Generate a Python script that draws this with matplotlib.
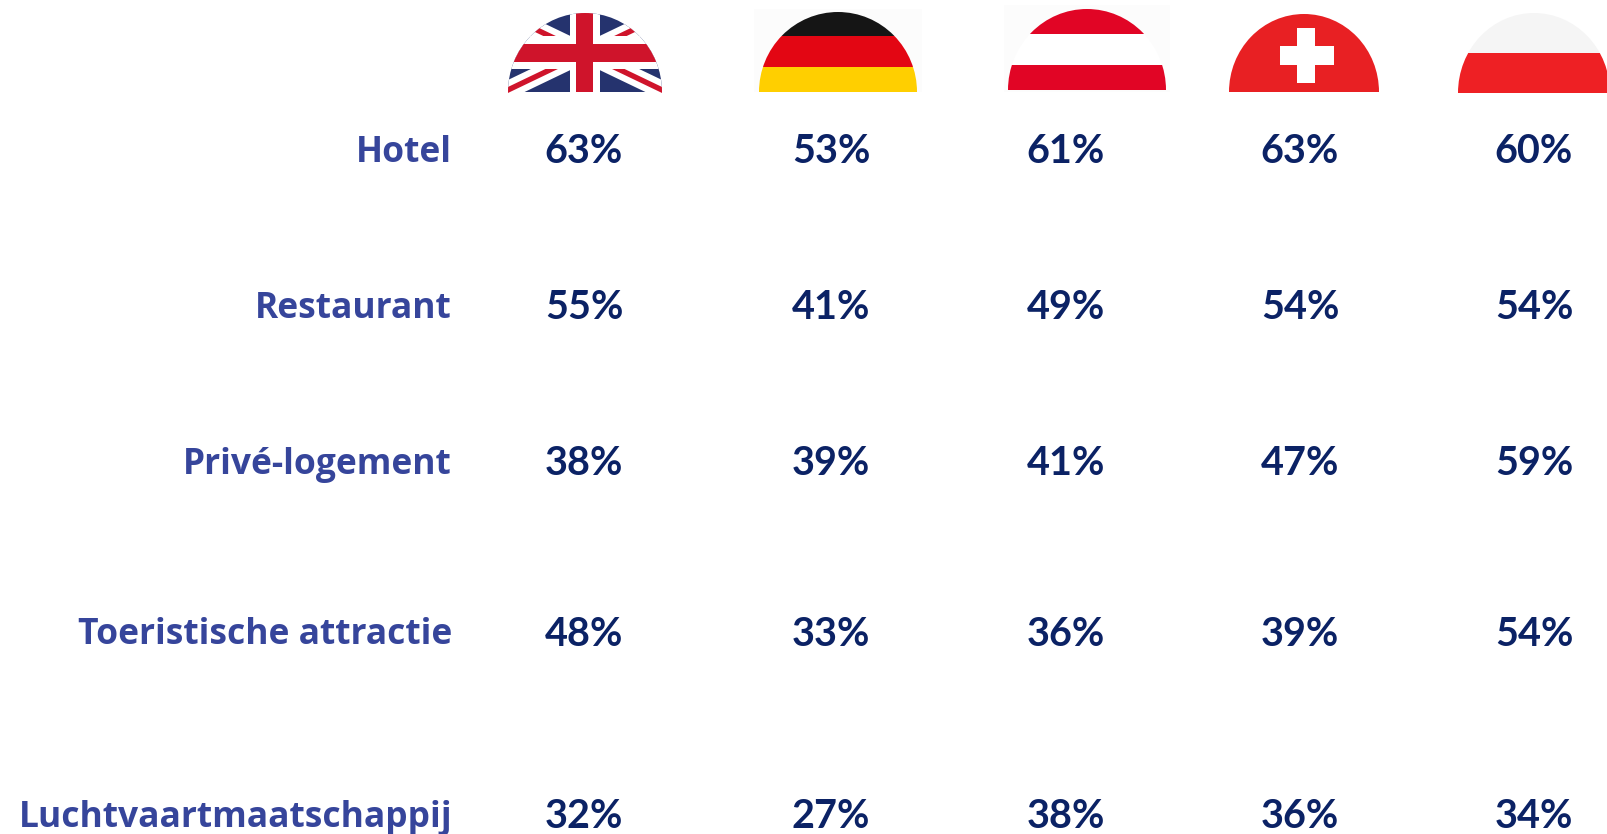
import matplotlib
matplotlib.use("Agg")

import numpy as np

import matplotlib.pyplot as plt
from matplotlib.patches import Ellipse, Rectangle, Polygon

categories = ["Hotel", "Restaurant", "Privé-logement", "Toeristische attractie", "Luchtvaartmaatschappij"]

uk = [63, 55, 38, 48, 32]
germany = [53, 41, 39, 33, 27]
austria = [61, 49, 41, 36, 38]
switzerland = [63, 54, 47, 39, 36]
poland = [60, 54, 59, 54, 34]

columns = [uk, germany, austria, switzerland, poland]

# NOTE: layout, in pixels of the 1607x834 picture
column_x = [584, 831, 1066, 1300, 1534]
row_y = [148, 304, 460, 631, 813]
label_x = 452

label_color = "#36459b"
value_color = "#0b2265"

plt.rcParams["font.family"] = ["Lato", "DejaVu Sans"]


def half_disc(ax, xc, y_base, rx, ry):

    clip = Ellipse(xy=(xc, y_base), width=2.0 * rx, height=2.0 * ry, transform=ax.transData)

    return clip


def rect(ax, x0, y0, x1, y1, color, clip=None):

    patch = Rectangle((x0, y0), x1 - x0, y1 - y0, facecolor=color, edgecolor="none")
    ax.add_patch(patch)
    if clip is not None:
        patch.set_clip_path(clip)

    return patch


def diagonal(ax, xc, yc, x_half, slope, w, color, clip):

    for sign in [1.0, -1.0]:
        p0 = (xc - x_half, yc - sign * slope * x_half)
        p1 = (xc + x_half, yc + sign * slope * x_half)
        patch = Polygon(
            [(p0[0], p0[1] - w), (p1[0], p1[1] - w), (p1[0], p1[1] + w), (p0[0], p0[1] + w)],
            facecolor=color,
            edgecolor="none"
        )
        ax.add_patch(patch)
        patch.set_clip_path(clip)


def draw_uk(ax):

    xc, y_base, rx, ry = 585, 92, 77, 79
    clip = half_disc(ax, xc, y_base, rx, ry)

    rect(ax, xc - rx, 0, xc + rx, y_base, "#25336e", clip)
    diagonal(ax, xc, 53, 160, 0.48, 10, "white", clip)
    diagonal(ax, xc, 53, 160, 0.48, 3, "#cf142b", clip)
    rect(ax, xc - rx, 36, xc + rx, 69, "white", clip)
    rect(ax, 570, 0, 600, y_base, "white", clip)
    rect(ax, xc - rx, 44, xc + rx, 62, "#cf142b", clip)
    rect(ax, 576, 0, 593, y_base, "#cf142b", clip)


def draw_germany(ax):

    # NOTE: the flag sits on a faint off-white box
    rect(ax, 754, 9, 922, 92, "#fcfcfc")

    xc, y_base, rx, ry = 838, 92, 79, 80
    clip = half_disc(ax, xc, y_base, rx, ry)

    rect(ax, xc - rx, 0, xc + rx, 36, "#151515", clip)
    rect(ax, xc - rx, 36, xc + rx, 67, "#e30613", clip)
    rect(ax, xc - rx, 67, xc + rx, y_base, "#ffcf00", clip)


def draw_austria(ax):

    rect(ax, 1004, 5, 1170, 92, "#fcfcfc")

    xc, y_base, rx, ry = 1087, 90, 79, 81
    clip = half_disc(ax, xc, y_base, rx, ry)

    rect(ax, xc - rx, 0, xc + rx, 34, "#e10525", clip)
    rect(ax, xc - rx, 34, xc + rx, 65, "white", clip)
    rect(ax, xc - rx, 65, xc + rx, y_base, "#e10525", clip)


def draw_switzerland(ax):

    xc, y_base, rx, ry = 1304, 92, 75, 78
    clip = half_disc(ax, xc, y_base, rx, ry)

    rect(ax, xc - rx, 0, xc + rx, y_base, "#e82023", clip)
    rect(ax, 1280, 46, 1334, 65, "white", clip)
    rect(ax, 1297, 28, 1315, 83, "white", clip)


def draw_poland(ax):

    xc, y_base, rx, ry = 1534, 93, 76, 80
    clip = half_disc(ax, xc, y_base, rx, ry)

    rect(ax, xc - rx, 0, xc + rx, 53, "#f5f5f5", clip)
    rect(ax, xc - rx, 53, xc + rx, y_base, "#ee2024", clip)


fig = plt.figure(figsize=(16.07, 8.34), dpi=100)
ax = fig.add_axes([0, 0, 1, 1])
ax.set_xlim(0, 1607)
ax.set_ylim(834, 0)
ax.axis("off")

draw_uk(ax=ax)
draw_germany(ax=ax)
draw_austria(ax=ax)
draw_switzerland(ax=ax)
draw_poland(ax=ax)

for i, category in enumerate(categories):

    ax.text(
        label_x, row_y[i], category,
        ha="right", va="center_baseline",
        fontsize=25.5, fontweight="bold", color=label_color,
        family=["Open Sans", "DejaVu Sans"]
    )

    for j, column in enumerate(columns):
        ax.text(
            column_x[j], row_y[i], "{}%".format(column[i]),
            ha="center", va="center_baseline",
            fontsize=28.5, fontweight="bold", color=value_color
        )

fig.savefig("out.png", dpi=100)
